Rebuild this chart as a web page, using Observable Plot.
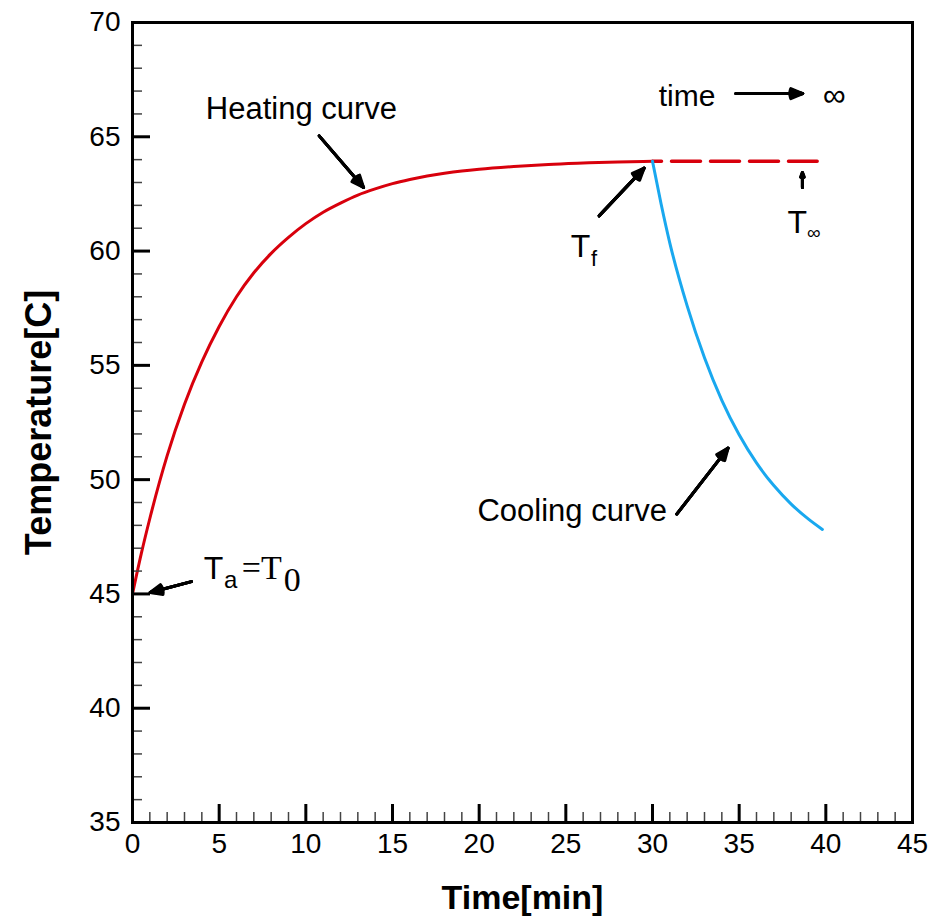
<!DOCTYPE html>
<html><head><meta charset="utf-8">
<script src="https://cdn.jsdelivr.net/npm/d3@7"></script>
<script src="https://cdn.jsdelivr.net/npm/@observablehq/plot@0.6"></script>
<style>body{margin:0;background:#fff}</style>
</head><body><div id="chart"></div>
<script>
// Heating curve (red)
const heatTime = [0, 0.5, 1, 2, 3, 4, 5, 6, 7, 8, 9, 10, 11, 12, 13, 14, 15, 16, 17, 18, 19, 20, 22, 24, 26, 28, 30];
const heatTemp = [45.0, 46.74, 48.3, 51.05, 53.3, 55.15, 56.7, 58.0, 59.05, 59.9, 60.6, 61.2, 61.7, 62.1, 62.45, 62.72, 62.95, 63.13, 63.28, 63.4, 63.5, 63.58, 63.7, 63.79, 63.85, 63.9, 63.93];
// Cooling curve (blue)
const coolTime = [30, 30.5, 31, 32, 33, 34, 35, 36, 37, 38, 39, 39.8];
const coolTemp = [63.93, 62.05, 60.35, 57.6, 55.33, 53.47, 51.96, 50.73, 49.74, 48.93, 48.27, 47.82];
// Asymptote T_inf (dashed red)
const limitTime = [30, 39.5];
const limitTemp = [63.93, 63.93];

// Axis ticks
const xMajorTicks = [0, 5, 10, 15, 20, 25, 30, 35, 40, 45];
const xMinorTicks = [1,2,3,4,6,7,8,9,11,12,13,14,16,17,18,19,21,22,23,24,26,27,28,29,31,32,33,34,36,37,38,39,41,42,43,44];
const yMajorTicks = [35, 40, 45, 50, 55, 60, 65, 70];
const yMinorTicks = [36,37,38,39,41,42,43,44,46,47,48,49,51,52,53,54,56,57,58,59,61,62,63,64,66,67,68,69];
const xTitle = "Time[min]";
const yTitle = "Temperature[C]";

// Annotations (sans)
const annText = ["Heating curve", "time", "\u221E", "T", "f", "T", "\u221E", "Cooling curve", "T", "a"];
const annX    = [4.23, 30.36, 39.83, 25.28, 26.45, 37.79, 38.92, 19.9, 4.11, 5.28];
const annY    = [65.78, 66.36, 66.36, 59.72, 59.36, 60.8, 60.54, 48.2, 45.66, 45.27];
const annSize = [31, 30, 32, 32, 22, 32, 19, 31, 32, 24];
// Annotations (serif)
const serifText = ["=T", "0"];
const serifX = [6.31, 8.73];
const serifY = [45.66, 45.14];
// Arrows
const arrX1 = [10.77, 34.81, 26.92, 38.65, 31.40, 3.40];
const arrY1 = [65.04, 66.89, 61.54, 62.78, 48.49, 45.54];
const arrX2 = [13.33, 38.67, 29.52, 38.65, 34.36, 1.02];
const arrY2 = [62.78, 66.89, 63.63, 63.44, 51.38, 45.06];

const heat = heatTime.map((t, i) => ({t, T: heatTemp[i]}));
const cool = coolTime.map((t, i) => ({t, T: coolTemp[i]}));
const limit = limitTime.map((t, i) => ({t, T: limitTemp[i]}));
const ann = annText.map((s, i) => i);
const ser = serifText.map((s, i) => i);
const arr = arrX1.map((s, i) => i);

// filled-looking arrowheads: several wings at decreasing angles
const arrowLayers = [46, 34, 22, 10].map(a =>
  Plot.arrow(arr, {x1: i => arrX1[i], y1: i => arrY1[i], x2: i => arrX2[i], y2: i => arrY2[i],
    stroke: "black", strokeWidth: 3, headLength: 6.5, headAngle: a})
);

const chart = Plot.plot({
  width: 933,
  height: 916,
  marginLeft: 132,
  marginRight: 21,
  marginTop: 22,
  marginBottom: 94,
  x: {domain: [0, 45]},
  y: {domain: [35, 70]},
  style: {fontFamily: "'Liberation Sans', Arial, sans-serif", background: "white", color: "black"},
  marks: [
    Plot.line(heat, {x: "t", y: "T", stroke: "#d8000c", strokeWidth: 3, curve: "monotone-x"}),
    Plot.line(limit, {x: "t", y: "T", stroke: "#d8000c", strokeWidth: 3.5, strokeDasharray: "29,10", strokeDashoffset: 20}),
    Plot.line(cool, {x: "t", y: "T", stroke: "#19a8ef", strokeWidth: 3, curve: "monotone-x"}),
    ...arrowLayers,
    Plot.text(ann, {x: i => annX[i], y: i => annY[i], text: i => annText[i], fontSize: i => annSize[i], textAnchor: "start", lineAnchor: "bottom", fill: "black"}),
    Plot.text(ser, {x: i => serifX[i], y: i => serifY[i], text: i => serifText[i], fontSize: 34, fontFamily: "'Liberation Serif', 'Times New Roman', serif", textAnchor: "start", lineAnchor: "bottom", fill: "black"}),
    Plot.axisX(xMajorTicks, {tickSize: 0, tickPadding: 11, fontSize: 28, label: null, tickFormat: d => String(d)}),
    Plot.axisX(xMajorTicks, {tickSize: 18, dy: -18, fill: "none", strokeWidth: 3}),
    Plot.axisX(xMinorTicks, {tickSize: 10, dy: -10, fill: "none", strokeWidth: 1.5, stroke: "#444"}),
    Plot.axisY(yMajorTicks, {tickSize: 0, tickPadding: 12, fontSize: 28, label: null, tickFormat: d => String(d)}),
    Plot.axisY(yMajorTicks, {tickSize: 18, dx: 18, fill: "none", strokeWidth: 3}),
    Plot.axisY(yMinorTicks, {tickSize: 10, dx: 10, fill: "none", strokeWidth: 1.5, stroke: "#444"}),
    Plot.frame({stroke: "black", strokeWidth: 3}),
    Plot.text([xTitle], {frameAnchor: "bottom", dy: 86, textAnchor: "middle", lineAnchor: "bottom", text: d => d, fontSize: 34, fontWeight: "bold", fill: "black"}),
    Plot.text([yTitle], {frameAnchor: "left", dx: -82, rotate: -90, textAnchor: "middle", lineAnchor: "bottom", text: d => d, fontSize: 36, fontWeight: "bold", fill: "black"})
  ]
});
document.getElementById("chart").appendChild(chart);
</script>
</body></html>
